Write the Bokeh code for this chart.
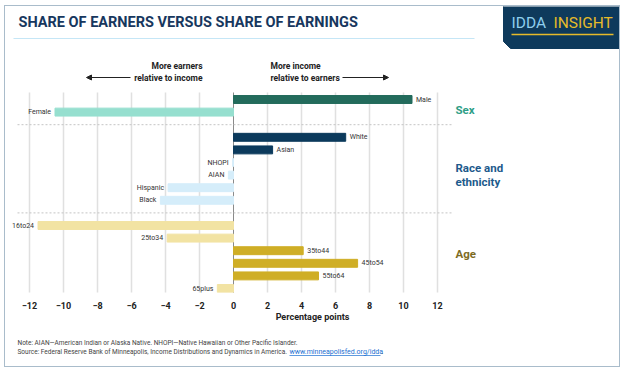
from bokeh.plotting import figure
from bokeh.layouts import column
from bokeh.models import ColumnDataSource, Range1d, FixedTicker, Arrow, NormalHead
from bokeh.core.properties import value
from bokeh.embed import file_html
from bokeh.resources import INLINE

# ---------------- data ----------------
sex_labels = ["Male", "Female"]
sex_values = [10.5, -10.5]
race_labels = ["White", "Asian", "NHOPI", "AIAN", "Hispanic", "Black"]
race_values = [6.6, 2.3, -0.05, -0.3, -3.85, -4.3]
age_labels = ["16to24", "25to34", "35to44", "45to54", "55to64", "65plus"]
age_values = [-11.5, -3.9, 4.1, 7.3, 5.0, -0.95]
x_ticks = [-12, -10, -8, -6, -4, -2, 0, 2, 4, 6, 8, 10, 12]

# ---------------- styles ----------------
FONT = value("Roboto")
pos_colors = ["#236b5c", "#0c3a5c", "#cfae26"]
neg_colors = ["#96dfcf", "#d5edfa", "#f2e3a3"]
group_colors = ["#2e9e86", "#1d5a8c", "#7d6b1f"]

W = 614
H1, H2 = 324, 36
X0, Y0 = 5, 6            # page position of content origin (margin + border)
ZERO_PX = 233 - X0       # content pixel of x = 0
PXU = 17.0               # pixels per percentage point
ROW0_PX = 99 - Y0        # content pixel of first row
ROW_PX = 12.6            # pixels per row
FRAME_BOTTOM = 292 - Y0

def dx(X):
    return (X - X0 - ZERO_PX) / PXU

def dy(Y):
    return (Y - Y0 - ROW0_PX) / ROW_PX

# ---------------- build rows ----------------
rows, labels, vals, colors, aligns, offs = [], [], [], [], [], []
r = 0
sep_rows = []
for gi, (labs, vs) in enumerate([(sex_labels, sex_values), (race_labels, race_values), (age_labels, age_values)]):
    for lab, v in zip(labs, vs):
        rows.append(r)
        labels.append(lab)
        vals.append(v)
        colors.append(pos_colors[gi] if v > 0 else neg_colors[gi])
        aligns.append("left" if v > 0 else "right")
        offs.append(4 if v > 0 else -4)
        r += 1
    if gi < 2:
        sep_rows.append(r)
        r += 1

src = ColumnDataSource(dict(
    y=rows, label=labels, v=vals, color=colors, align=aligns, off=offs,
    left=[min(v, 0) for v in vals], right=[max(v, 0) for v in vals],
))

p = figure(width=W, height=H1, output_backend="svg", toolbar_location=None,
           x_range=Range1d(-ZERO_PX / PXU, (W - ZERO_PX) / PXU),
           y_range=Range1d((FRAME_BOTTOM - ROW0_PX) / ROW_PX, -ROW0_PX / ROW_PX),
           y_axis_location=None, min_border_left=0, min_border_right=0,
           min_border_top=0, min_border_bottom=H1 - FRAME_BOTTOM)
p.outline_line_color = None
p.grid.visible = False
p.background_fill_color = "white"
p.border_fill_color = "white"

# gridlines
grid_x = [t for t in x_ticks if t != 0]
p.segment(x0=grid_x, x1=grid_x, y0=[dy(92)] * len(grid_x), y1=[dy(300)] * len(grid_x),
          line_color="#e0e0e0", line_width=1.5)
p.segment(x0=[0], x1=[0], y0=[dy(92)], y1=[dy(300)], line_color="#8a8a8a", line_width=1)

# separators
p.segment(x0=[dx(17)] * len(sep_rows), x1=[dx(453)] * len(sep_rows), y0=sep_rows, y1=sep_rows,
          line_color="#c4c4c4", line_width=1, line_dash="2 2")

# bars
p.hbar(y="y", left="left", right="right", height=0.63, color="color", source=src)
p.text(x="v", y="y", text="label", text_align="align", x_offset="off",
       text_baseline="middle", text_font=FONT, text_font_size="7px",
       text_color="#333333", source=src)

# group labels
gx = dx(455)
p.text(x=[gx], y=[dy(109)], text=["Sex"], text_font=FONT, text_font_style="bold",
       text_font_size="11.5px", text_color=group_colors[0], text_baseline="middle")
p.text(x=[gx, gx], y=[dy(167), dy(181)], text=["Race and", "ethnicity"], text_font=FONT,
       text_font_style="bold", text_font_size="11.5px", text_color=group_colors[1],
       text_baseline="middle")
p.text(x=[gx], y=[dy(253)], text=["Age"], text_font=FONT, text_font_style="bold",
       text_font_size="11.5px", text_color=group_colors[2], text_baseline="middle")

# direction annotations
p.text(x=[dx(202)] * 2, y=[dy(65), dy(77)], text=["More earners", "relative to income"],
       text_align="right", text_baseline="middle", text_font=FONT, text_font_style="bold",
       text_font_size="8.5px", text_color="#222222")
p.text(x=[dx(270)] * 2, y=[dy(65), dy(77)], text=["More income", "relative to earners"],
       text_align="left", text_baseline="middle", text_font=FONT, text_font_style="bold",
       text_font_size="8.5px", text_color="#222222")
p.add_layout(Arrow(end=NormalHead(size=5, fill_color="#222222", line_color="#222222"),
                   x_start=dx(130), y_start=dy(77), x_end=dx(86), y_end=dy(77),
                   line_color="#222222", line_width=1))
p.add_layout(Arrow(end=NormalHead(size=5, fill_color="#222222", line_color="#222222"),
                   x_start=dx(342), y_start=dy(77), x_end=dx(388), y_end=dy(77),
                   line_color="#222222", line_width=1))

# title and rule
p.text(x=[dx(18)], y=[dy(22)], text=["SHARE OF EARNERS VERSUS SHARE OF EARNINGS"],
       text_font=FONT, text_font_style="bold", text_font_size="14.5px",
       text_color="#17375e", text_baseline="middle")
p.segment(x0=[dx(13)], x1=[dx(474)], y0=[dy(38)], y1=[dy(38)], line_color="#c5e6f6", line_width=1.2)

# header badge
p.patch(x=[dx(503), dx(625), dx(625), dx(510), dx(503)],
        y=[dy(-5), dy(-5), dy(48), dy(48), dy(41)], color="#0e3a5c")
p.text(x=[dx(511)], y=[dy(22)], text=["IDDA"], text_font=FONT, text_font_size="15.5px",
       text_color="#8fcfee", text_baseline="middle")
p.text(x=[dx(553)], y=[dy(22)], text=["INSIGHT"], text_font=FONT, text_font_size="15.5px",
       text_color="#e7bb2a", text_baseline="middle")
p.segment(x0=[dx(511)], x1=[dx(613)], y0=[dy(34)], y1=[dy(34)], line_color="#e7bb2a", line_width=1.5)

# axis
ax = p.xaxis[0]
ax.ticker = FixedTicker(ticks=x_ticks)
ax.bounds = (-12.8, 12.8)
ax.axis_line_color = None
ax.major_tick_line_color = None
ax.minor_tick_line_color = None
ax.major_label_standoff = 3
ax.major_label_text_font = "Roboto"
ax.major_label_text_font_style = "bold"
ax.major_label_text_font_size = "9px"
ax.major_label_text_color = "#222222"
ax.axis_label = "Percentage points"
ax.axis_label_standoff = 0
ax.axis_label_text_font = "Roboto"
ax.axis_label_text_font_style = "bold"
ax.axis_label_text_font_size = "9px"
ax.axis_label_text_color = "#222222"

# ---------------- notes figure ----------------
n = figure(width=W, height=H2, output_backend="svg", toolbar_location=None,
           x_range=Range1d(0, W), y_range=Range1d(H2, 0),
           x_axis_location=None, y_axis_location=None,
           min_border_left=0, min_border_right=0, min_border_top=0, min_border_bottom=0)
n.outline_line_color = None
n.grid.visible = False
N0 = 330  # page y of notes figure top
n.text(x=[17 - X0, 17 - X0], y=[342 - N0, 351 - N0],
       text=["Note: AIAN\u2014American Indian or Alaska Native. NHOPI\u2014Native Hawaiian or Other Pacific Islander.",
             "Source: Federal Reserve Bank of Minneapolis, Income Distributions and Dynamics in America."],
       text_font=FONT, text_font_size="6.5px", text_color="#444444", text_baseline="middle")
n.text(x=[289 - X0], y=[351 - N0], text=["www.minneapolisfed.org/idda"],
       text_font=FONT, text_font_size="7px", text_color="#1a6fd1", text_baseline="middle")
n.segment(x0=[289 - X0], x1=[380 - X0], y0=[355 - N0], y1=[355 - N0], line_color="#1a6fd1", line_width=0.7)
n.text(x=[381 - X0], y=[351 - N0], text=["."],
       text_font=FONT, text_font_size="6.5px", text_color="#444444", text_baseline="middle")

layout = column(p, n, margin=(5, 0, 0, 4), styles={"border": "1px solid #a9bccb"})
open("out.html", "w").write(file_html(layout, INLINE))
